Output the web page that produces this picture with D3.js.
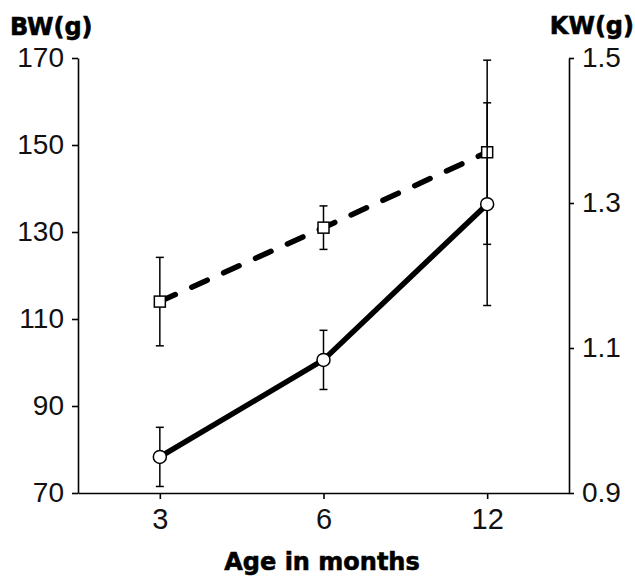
<!DOCTYPE html>
<html>
<head>
<meta charset="utf-8">
<script src="https://cdn.jsdelivr.net/npm/d3@7"></script>
<style>
  body { margin: 0; background: #fff; }
  svg { display: block; }
  .tick text { font-family: 'Liberation Sans', Arial, sans-serif; }
</style>
</head>
<body>
<svg id="chart"></svg>
<script>
const ages = ['3', '6', '12'];
const bwMean = [78.3, 100.6, 136.4];   // body weight, circles, solid line
const bwErr = [6.8, 6.8, 23.3];
const kwMean = [1.164, 1.266, 1.370];  // kidney weight, squares, dashed line
const kwErr = [0.061, 0.030, 0.127];
const bwTicks = [70, 90, 110, 130, 150, 170];
const kwTicks = [0.9, 1.1, 1.3, 1.5];

const w = 635, h = 577;
const plotL = 78, plotR = 569, plotT = 58, plotB = 493;

const svg = d3.select('#chart').attr('width', w).attr('height', h);

const x = d3.scalePoint().domain(ages).range([plotL, plotR]).padding(0.5);
const yBW = d3.scaleLinear().domain([70, 170]).range([plotB, plotT]);
const yKW = d3.scaleLinear().domain([0.9, 1.5]).range([plotB, plotT]);

const styleAxis = (g, size) => {
  g.attr('font-family', null);
  g.select('.domain').attr('stroke', '#000').attr('stroke-width', 1.6);
  g.selectAll('.tick line').attr('stroke', '#000').attr('stroke-width', 1.6);
  g.selectAll('text')
    .style('font-family', "'Liberation Sans', Arial, sans-serif")
    .attr('font-size', size)
    .attr('fill', '#111');
};

svg.append('g')
  .attr('transform', `translate(${plotL},0)`)
  .call(d3.axisLeft(yBW).tickValues(bwTicks).tickSize(6).tickSizeOuter(0).tickPadding(8))
  .call(g => styleAxis(g, 28));

svg.append('g')
  .attr('transform', `translate(${plotR},0)`)
  .call(d3.axisRight(yKW).tickValues(kwTicks).tickFormat(d3.format('.1f')).tickSize(5).tickSizeOuter(0).tickPadding(8))
  .call(g => styleAxis(g, 28));

svg.append('g')
  .attr('transform', `translate(0,${plotB})`)
  .call(d3.axisBottom(x).tickSize(6).tickSizeOuter(0).tickPadding(9))
  .call(g => styleAxis(g, 29));

const bw = ages.map((a, i) => ({ age: a, m: bwMean[i], e: bwErr[i] }));
const kw = ages.map((a, i) => ({ age: a, m: kwMean[i], e: kwErr[i] }));

function errorBars(data, y, cls) {
  const g = svg.append('g').attr('class', cls)
    .attr('stroke', '#000').attr('stroke-width', 1.5);
  g.selectAll('.v').data(data).join('line')
    .attr('x1', d => x(d.age)).attr('x2', d => x(d.age))
    .attr('y1', d => y(d.m + d.e)).attr('y2', d => y(d.m - d.e));
  g.selectAll('.top').data(data).join('line')
    .attr('x1', d => x(d.age) - 4).attr('x2', d => x(d.age) + 4)
    .attr('y1', d => y(d.m + d.e)).attr('y2', d => y(d.m + d.e));
  g.selectAll('.bot').data(data).join('line')
    .attr('x1', d => x(d.age) - 4).attr('x2', d => x(d.age) + 4)
    .attr('y1', d => y(d.m - d.e)).attr('y2', d => y(d.m - d.e));
}

// KW: dashed line with squares
errorBars(kw, yKW, 'kw_err');
svg.append('path').datum(kw)
  .attr('d', d3.line().x(d => x(d.age)).y(d => yKW(d.m)))
  .attr('fill', 'none')
  .attr('stroke', '#000')
  .attr('stroke-width', 5.5)
  .attr('stroke-linecap', 'round')
  .attr('stroke-dasharray', '17,18');
const sq = 11;
svg.selectAll('.kw_sq').data(kw).join('rect')
  .attr('class', 'kw_sq')
  .attr('x', d => x(d.age) - sq / 2)
  .attr('y', d => yKW(d.m) - sq / 2)
  .attr('width', sq).attr('height', sq)
  .attr('fill', '#fff')
  .attr('stroke', '#000')
  .attr('stroke-width', 1.5);

// BW: solid line with circles
errorBars(bw, yBW, 'bw_err');
svg.append('path').datum(bw)
  .attr('d', d3.line().x(d => x(d.age)).y(d => yBW(d.m)))
  .attr('fill', 'none')
  .attr('stroke', '#000')
  .attr('stroke-width', 5.5);
svg.selectAll('.bw_c').data(bw).join('circle')
  .attr('class', 'bw_c')
  .attr('cx', d => x(d.age))
  .attr('cy', d => yBW(d.m))
  .attr('r', 6.5)
  .attr('fill', '#fff')
  .attr('stroke', '#000')
  .attr('stroke-width', 1.5);

// titles
const bold = 'DejaVu Sans, sans-serif';
const title = (tx, ty, anchor, label) => svg.append('text')
  .attr('x', tx).attr('y', ty).attr('text-anchor', anchor)
  .attr('font-family', bold).attr('font-weight', 'bold').attr('font-size', 24)
  .attr('stroke', '#000').attr('stroke-width', 0.6)
  .text(label);
title(10, 35, 'start', 'BW(g)');
title(634, 34, 'end', 'KW(g)');
title(322, 570, 'middle', 'Age in months');
</script>
</body>
</html>
